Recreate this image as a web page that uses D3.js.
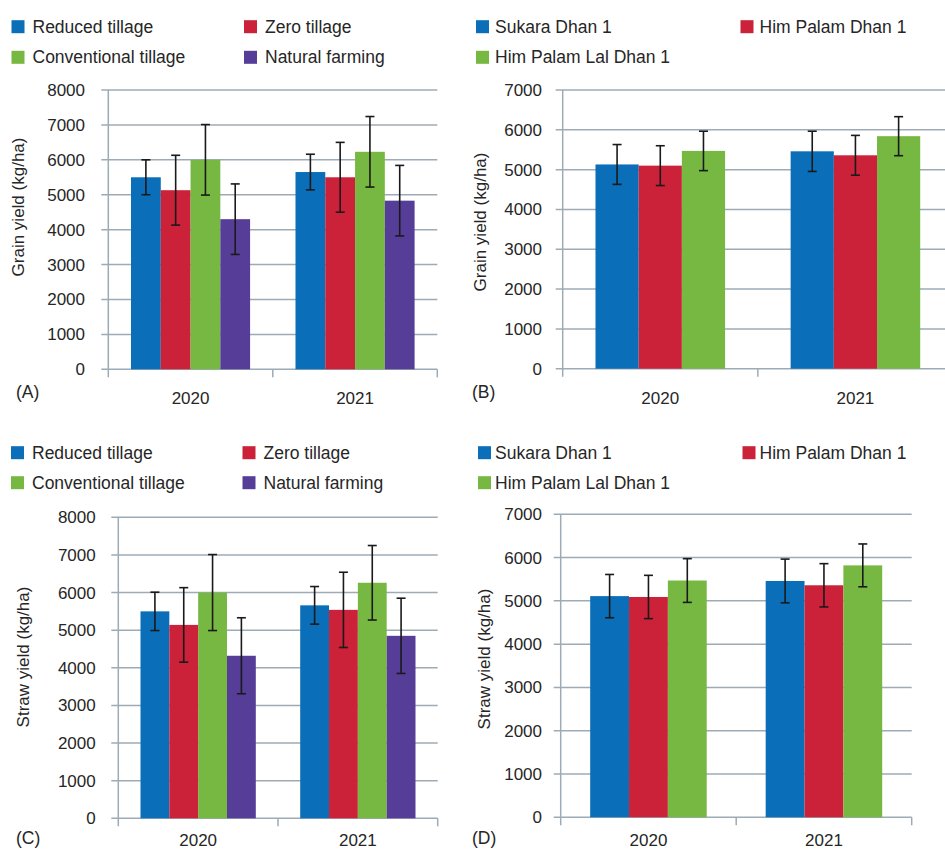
<!DOCTYPE html>
<html>
<head>
<meta charset="utf-8">
<script src="https://cdn.jsdelivr.net/npm/d3@7"></script>
<style>
  body { margin: 0; background: #fff; }
  svg { display: block; font-family: "Liberation Sans", Arial, sans-serif; }
</style>
</head>
<body>
<svg id="chart" width="945" height="851"></svg>
<script>
// ---- data ----
const years = ["2020", "2021"];
const tillageNames = ["Reduced tillage", "Zero tillage", "Conventional tillage", "Natural farming"];
const varietyNames = ["Sukara Dhan 1", "Him Palam Dhan 1", "Him Palam Lal Dhan 1"];

// values per series, one per year
const grainTillage = [[5500, 5650], [5130, 5500], [6000, 6230], [4300, 4830]];
const grainTillageErr = [[500, 510], [1000, 1000], [1010, 1010], [1010, 1010]];
const grainVariety = [[5130, 5460], [5100, 5360], [5470, 5840]];
const grainVarietyErr = [[500, 505], [500, 500], [495, 490]];
const strawTillage = [[5500, 5660], [5140, 5540], [6000, 6260], [4320, 4850]];
const strawTillageErr = [[510, 500], [990, 1000], [1010, 990], [1010, 1000]];
const strawVariety = [[5110, 5460], [5090, 5360], [5470, 5820]];
const strawVarietyErr = [[500, 505], [500, 500], [505, 495]];

const tillageTicks = [0, 1000, 2000, 3000, 4000, 5000, 6000, 7000, 8000];
const varietyTicks = [0, 1000, 2000, 3000, 4000, 5000, 6000, 7000];

const tillageColors = ["#0A6EB8", "#CB2139", "#77B843", "#563E98"];
const varietyColors = ["#0A6EB8", "#CB2139", "#77B843"];

const svg = d3.select("#chart");
const gridColor = "#9DABB6";
const textColor = "#262626";

function drawPanel(p) {
  const g = svg.append("g");
  const y = d3.scaleLinear().domain([0, p.ticks[p.ticks.length - 1]]).range([p.bottom, p.top]);
  const x = d3.scaleBand().domain(years).range([p.left, p.right]);
  const gap = x.bandwidth() * p.gap;
  const xs = d3.scaleBand().domain(d3.range(p.names.length)).range([gap, x.bandwidth() - gap]);

  // gridlines
  g.selectAll(".grid")
    .data(p.ticks)
    .enter()
    .append("line")
    .attr("x1", p.left - 7)
    .attr("x2", p.right)
    .attr("y1", (d) => y(d))
    .attr("y2", (d) => y(d))
    .style("stroke", gridColor)
    .style("stroke-width", "1.5px");

  // left axis line and category ticks
  g.append("line")
    .attr("x1", p.left).attr("x2", p.left)
    .attr("y1", p.top).attr("y2", p.bottom + 8)
    .style("stroke", gridColor).style("stroke-width", "1.5px");
  g.selectAll(".ctick")
    .data(years.slice(1).map((d) => x(d)).concat([p.right]))
    .enter()
    .append("line")
    .attr("x1", (d) => d).attr("x2", (d) => d)
    .attr("y1", p.bottom).attr("y2", p.bottom + 8)
    .style("stroke", gridColor).style("stroke-width", "1.5px");

  // tick labels
  const axis = d3.axisLeft(y)
    .tickValues(p.ticks)
    .tickFormat(d3.format("d"))
    .tickSize(0)
    .tickPadding(p.left - p.labelX);
  const ax = g.append("g").attr("transform", `translate(${p.left},0)`).call(axis);
  ax.select(".domain").remove();
  ax.selectAll("text")
    .style("font-family", "'Liberation Sans', Arial, sans-serif")
    .style("font-size", "17px")
    .style("fill", textColor);

  // bars
  p.names.forEach((name, i) => {
    const groups = g.append("g");
    groups.selectAll("rect")
      .data(years)
      .enter()
      .append("rect")
      .attr("x", (d) => x(d) + xs(i))
      .attr("y", (d, j) => y(p.values[i][j]))
      .attr("width", xs.bandwidth())
      .attr("height", (d, j) => p.bottom - y(p.values[i][j]))
      .style("fill", p.colors[i]);
  });

  // error bars
  p.names.forEach((name, i) => {
    years.forEach((yr, j) => {
      const cx = x(yr) + xs(i) + xs.bandwidth() / 2;
      const hi = y(p.values[i][j] + p.errors[i][j]);
      const lo = y(p.values[i][j] - p.errors[i][j]);
      const e = g.append("g").style("stroke", "#1a1a1a").style("stroke-width", "1.6px");
      e.append("line").attr("x1", cx).attr("x2", cx).attr("y1", hi).attr("y2", lo);
      e.append("line").attr("x1", cx - 4.5).attr("x2", cx + 4.5).attr("y1", hi).attr("y2", hi);
      e.append("line").attr("x1", cx - 4.5).attr("x2", cx + 4.5).attr("y1", lo).attr("y2", lo);
    });
  });

  // year labels
  g.selectAll(".year")
    .data(years)
    .enter()
    .append("text")
    .attr("x", (d) => x(d) + x.bandwidth() / 2)
    .attr("y", p.yearY)
    .attr("text-anchor", "middle")
    .style("font-size", "17px")
    .style("fill", textColor)
    .text((d) => d);

  // y label
  g.append("text")
    .attr("transform", `translate(${p.ylabelX},${p.ylabelY}) rotate(-90)`)
    .attr("text-anchor", "middle")
    .attr("dy", "0.35em")
    .style("font-size", "17px")
    .style("fill", textColor)
    .text(p.ylabel);

  // panel letter
  g.append("text")
    .attr("x", p.letterX)
    .attr("y", p.letterY)
    .style("font-size", "17.5px")
    .style("fill", textColor)
    .text(p.letter);

  // legend
  p.names.forEach((name, i) => {
    const lx = p.legendX[i % 2];
    const ly = p.legendY[Math.floor(i / 2)];
    g.append("rect")
      .attr("x", lx).attr("y", ly - 6.5)
      .attr("width", 13).attr("height", 13)
      .style("fill", p.colors[i]);
    g.append("text")
      .attr("x", lx + p.legendText)
      .attr("y", ly)
      .attr("dy", "0.35em")
      .style("font-size", "17.5px")
      .style("fill", textColor)
      .text(name);
  });
}

drawPanel({
  names: tillageNames, values: grainTillage, errors: grainTillageErr, colors: tillageColors,
  ticks: tillageTicks, left: 108.3, right: 437.3, top: 90, bottom: 369.3, gap: 0.138,
  labelX: 85, yearY: 404, ylabel: "Grain yield (kg/ha)", ylabelX: 18, ylabelY: 207,
  letter: "(A)", letterX: 16, letterY: 398,
  legendX: [11.5, 244], legendY: [26.7, 57.3], legendText: 21
});
drawPanel({
  names: varietyNames, values: grainVariety, errors: grainVarietyErr, colors: varietyColors,
  ticks: varietyTicks, left: 562.7, right: 953, top: 90, bottom: 368.7, gap: 0.168,
  labelX: 542, yearY: 404, ylabel: "Grain yield (kg/ha)", ylabelX: 480, ylabelY: 222,
  letter: "(B)", letterX: 472, letterY: 398,
  legendX: [476, 740.5], legendY: [26.7, 57.3], legendText: 19
});
drawPanel({
  names: tillageNames, values: strawTillage, errors: strawTillageErr, colors: tillageColors,
  ticks: tillageTicks, left: 118.3, right: 437.7, top: 517.3, bottom: 818.3, gap: 0.139,
  labelX: 95.7, yearY: 846, ylabel: "Straw yield (kg/ha)", ylabelX: 23, ylabelY: 657,
  letter: "(C)", letterX: 16, letterY: 844,
  legendX: [11, 242.5], legendY: [452.7, 482.7], legendText: 21
});
drawPanel({
  names: varietyNames, values: strawVariety, errors: strawVarietyErr, colors: varietyColors,
  ticks: varietyTicks, left: 560.7, right: 911.7, top: 514.3, bottom: 817.3, gap: 0.168,
  labelX: 542, yearY: 846, ylabel: "Straw yield (kg/ha)", ylabelX: 484, ylabelY: 659,
  letter: "(D)", letterX: 472, letterY: 844,
  legendX: [478, 742.5], legendY: [452.7, 482.7], legendText: 17
});
</script>
</body>
</html>
